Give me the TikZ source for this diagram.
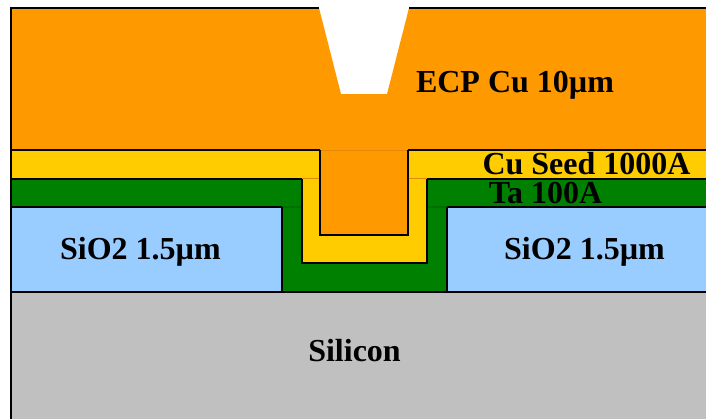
\documentclass[tikz,border=0pt]{standalone}
\usepackage{fontspec}
\setmainfont{Liberation Serif}
\usepackage{tikz}
\definecolor{cuorange}{HTML}{FF9900}
\definecolor{seedyellow}{HTML}{FFCC00}
\definecolor{tagreen}{HTML}{008000}
\definecolor{oxideblue}{HTML}{99CCFF}
\definecolor{sigray}{HTML}{C0C0C0}
\definecolor{seamorange}{HTML}{E08A05}
\definecolor{seamgreen}{HTML}{006E00}

\begin{document}
\begin{tikzpicture}[x=0.75pt, y=-0.75pt, layer/.style={line width=1.6pt, line join=miter}, seam/.style={line width=0.8pt}, layerlabel/.style={font=\fontsize{24}{24}\selectfont\bfseries, inner sep=0pt, anchor=base}]
    \useasboundingbox (0,0) rectangle (706,419);
    \clip (0,0) rectangle (706,419);

    % fills
    \fill[sigray] (11,292) rectangle (706,419);
    \fill[oxideblue] (11,207) rectangle (706,292);
    \fill[tagreen] (11,179) -- (706,179) -- (706,207) -- (447,207) -- (447,292) -- (282,292) -- (282,207) -- (11,207) -- cycle;
    \fill[seedyellow] (11,150) -- (706,150) -- (706,179) -- (427,179) -- (427,263) -- (302,263) -- (302,179) -- (11,179) -- cycle;
    \fill[cuorange] (11,8) -- (319,8) -- (341,94) -- (387,94) -- (409,8) -- (706,8) -- (706,150) -- (408,150) -- (408,235) -- (320,235) -- (320,150) -- (11,150) -- cycle;

    % faint seams across the trench
    \draw[seam, seamorange] (319,150.5) -- (409,150.5);
    \draw[seam, seamorange] (302,178.5) -- (320,178.5) (408,178.5) -- (427,178.5);
    \draw[seam, seamgreen] (282,207) -- (302,207) (427,207) -- (447,207);

    % outlines
    \draw[layer] (11,419) -- (11,8) -- (319,8);
    \draw[layer] (409,8) -- (706,8);
    \draw[layer] (11,150) -- (320,150) (320,150) -- (320,235) -- (408,235) -- (408,150) (408,150) -- (706,150);
    \draw[layer] (11,179) -- (302,179) (302,179) -- (302,263) -- (427,263) -- (427,179) (427,179) -- (706,179);
    \draw[layer] (11,207) -- (282,207) (282,207) -- (282,292) -- (447,292) -- (447,207) (447,207) -- (706,207);
    \draw[layer] (11,292) -- (706,292);

    % labels
    \node[layerlabel] (ecp) at (515,92.5) {ECP Cu 10µm};
    \node[layerlabel] (seed) at (586.5,174.5) {Cu Seed 1000A};
    \node[layerlabel] (ta) at (545.5,203.5) {Ta 100A};
    \node[layerlabel] (oxleft) at (140.5,259) {SiO2 1.5µm};
    \node[layerlabel] (oxright) at (584.5,259) {SiO2 1.5µm};
    \node[layerlabel] (si) at (354.5,361.5) {Silicon};
\end{tikzpicture}
\end{document}
